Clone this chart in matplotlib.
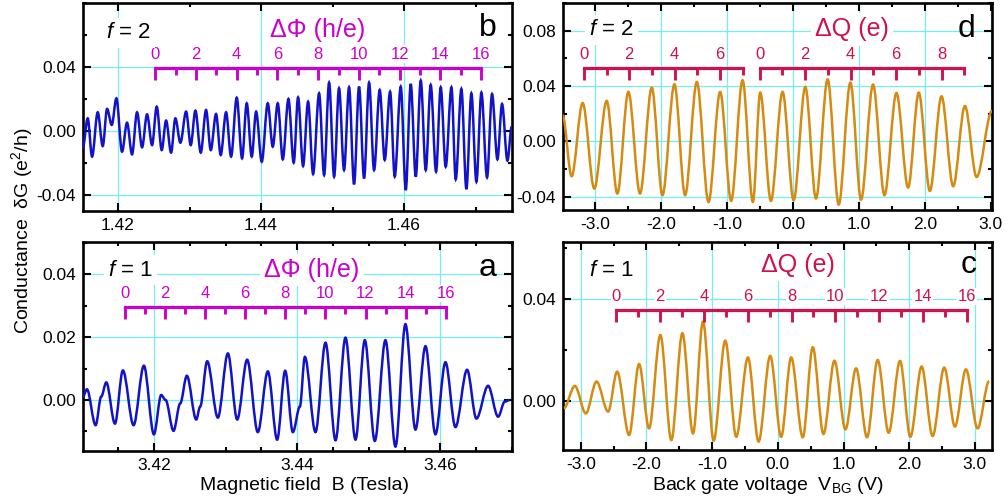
import numpy as np
import matplotlib
matplotlib.use('Agg')
import matplotlib.pyplot as plt
from matplotlib.path import Path
from matplotlib.patches import PathPatch
from matplotlib.ticker import MultipleLocator, FormatStrFormatter

plt.rcParams['font.family'] = ['Liberation Sans', 'DejaVu Sans']
plt.rcParams['mathtext.fontset'] = 'custom'
plt.rcParams['mathtext.rm'] = 'Liberation Sans'
plt.rcParams['mathtext.it'] = 'Liberation Sans:italic'
plt.rcParams['axes.unicode_minus'] = False

# extrema (field in Tesla / gate in V, dG in e^2/h)
# panel b: f = 2 vs magnetic field
field_b = [1.41506, 1.41576, 1.41637, 1.41716, 1.41786, 1.41847, 1.41912, 1.41977, 1.42056, 1.42126,
           1.42196, 1.42266, 1.42336, 1.42406, 1.42476, 1.42541, 1.42611, 1.42672, 1.42742, 1.42802,
           1.42872, 1.42952, 1.43017, 1.43082, 1.43157, 1.43231, 1.43297, 1.43371, 1.43436, 1.43511,
           1.43581, 1.43660, 1.43735, 1.43800, 1.43870, 1.43931, 1.44010, 1.44094, 1.44164, 1.44234,
           1.44304, 1.44383, 1.44457, 1.44518, 1.44588, 1.44658, 1.44728, 1.44812, 1.44882, 1.44952,
           1.45022, 1.45091, 1.45161, 1.45231, 1.45301, 1.45371, 1.45441, 1.45511, 1.45581, 1.45660,
           1.45730, 1.45805, 1.45870, 1.45954, 1.46024, 1.46094, 1.46164, 1.46234, 1.46304, 1.46373,
           1.46448, 1.46513, 1.46583, 1.46663, 1.46723, 1.46802, 1.46872, 1.46942, 1.47012, 1.47082,
           1.47161, 1.47231, 1.47306, 1.47371, 1.47446, 1.47506]
dG_b = [-0.0108, 0.0079, -0.0160, 0.0117, -0.0094, 0.0138, 0.0038, 0.0204, -0.0129, 0.0052,
        -0.0146, 0.0117, -0.0102, 0.0104, -0.0088, 0.0152, -0.0119, 0.0065, -0.0135, 0.0079,
        -0.0073, 0.0121, -0.0088, 0.0127, -0.0135, 0.0131, -0.0119, 0.0106, -0.0150, 0.0117,
        -0.0160, 0.0208, -0.0171, 0.0173, -0.0160, 0.0121, -0.0192, 0.0173, -0.0098, 0.0173,
        -0.0177, 0.0200, -0.0198, 0.0210, -0.0219, 0.0183, -0.0269, 0.0235, -0.0275, 0.0302,
        -0.0285, 0.0267, -0.0244, 0.0273, -0.0333, 0.0277, -0.0296, 0.0302, -0.0244, 0.0256,
        -0.0181, 0.0246, -0.0285, 0.0277, -0.0369, 0.0294, -0.0285, 0.0315, -0.0244, 0.0288,
        -0.0254, 0.0273, -0.0223, 0.0273, -0.0302, 0.0263, -0.0363, 0.0235, -0.0317, 0.0240,
        -0.0290, 0.0231, -0.0177, 0.0169, -0.0185, 0.0027]

# panel a: f = 1 vs magnetic field
field_a = [3.41009, 3.41065, 3.41186, 3.41265, 3.41335, 3.41456, 3.41567, 3.41716, 3.41860, 3.42000,
           3.42102, 3.42163, 3.42274, 3.42367, 3.42460, 3.42591, 3.42646, 3.42744, 3.42893, 3.43033,
           3.43163, 3.43302, 3.43451, 3.43591, 3.43721, 3.43833, 3.43940, 3.44038, 3.44108, 3.44256,
           3.44396, 3.44536, 3.44675, 3.44815, 3.44945, 3.45084, 3.45233, 3.45373, 3.45512, 3.45652,
           3.45792, 3.45931, 3.46071, 3.46210, 3.46373, 3.46503, 3.46666, 3.46806, 3.46899, 3.46968]
dG_a = [0.0011, 0.0034, -0.0080, 0.0011, 0.0056, -0.0075, 0.0094, -0.0080, 0.0109, -0.0109,
        0.0016, 0.0000, -0.0098, -0.0011, 0.0077, -0.0062, -0.0021, 0.0123, -0.0056, 0.0148,
        -0.0062, 0.0128, -0.0102, 0.0091, -0.0126, 0.0093, -0.0102, -0.0021, 0.0137, -0.0102,
        0.0182, -0.0128, 0.0198, -0.0126, 0.0190, -0.0130, 0.0190, -0.0148, 0.0241, -0.0094,
        0.0171, -0.0109, 0.0120, -0.0086, 0.0096, -0.0059, 0.0045, -0.0053, -0.0005, 0.0000]

# panel d: f = 2 vs back gate
gate_d = [-3.496, -3.359, -3.192, -3.015, -2.827, -2.665, -2.498, -2.321, -2.143, -1.981,
          -1.799, -1.637, -1.459, -1.282, -1.105, -0.938, -0.765, -0.608, -0.497, -0.335,
          -0.158, 0.010, 0.187, 0.349, 0.526, 0.694, 0.871, 1.033, 1.215, 1.388,
          1.570, 1.747, 1.909, 2.077, 2.254, 2.431, 2.609, 2.786, 3.020]
dG_d = [0.0188, -0.0253, 0.0277, -0.0342, 0.0292, -0.0378, 0.0357, -0.0378, 0.0388, -0.0390,
        0.0412, -0.0390, 0.0429, -0.0439, 0.0357, -0.0431, 0.0441, -0.0439, 0.0352, -0.0431,
        0.0357, -0.0427, 0.0393, -0.0414, 0.0448, -0.0458, 0.0424, -0.0422, 0.0410, -0.0390,
        0.0349, -0.0335, 0.0352, -0.0359, 0.0325, -0.0325, 0.0255, -0.0258, 0.0220]

# panel c: f = 1 vs back gate
gate_c = [-3.257, -3.090, -2.922, -2.760, -2.583, -2.446, -2.264, -2.112, -1.960, -1.788,
          -1.621, -1.453, -1.291, -1.139, -0.977, -0.800, -0.633, -0.455, -0.293, -0.116,
          0.051, 0.203, 0.380, 0.532, 0.694, 0.862, 1.029, 1.191, 1.358, 1.520,
          1.687, 1.860, 2.017, 2.189, 2.356, 2.533, 2.696, 2.863, 3.040, 3.217]
dG_c = [-0.0030, 0.0058, -0.0050, 0.0075, -0.0043, 0.0114, -0.0135, 0.0144, -0.0109, 0.0258,
        -0.0155, 0.0265, -0.0129, 0.0311, -0.0157, 0.0236, -0.0142, 0.0170, -0.0161, 0.0176,
        -0.0142, 0.0170, -0.0144, 0.0210, -0.0131, 0.0157, -0.0113, 0.0127, -0.0144, 0.0160,
        -0.0126, 0.0156, -0.0142, 0.0134, -0.0139, 0.0130, -0.0102, 0.0123, -0.0109, 0.0077]

# period scales drawn on top of the traces
flux_counts = list(range(17))
flux_labels = [0, 2, 4, 6, 8, 10, 12, 14, 16]
flux_origin_b, flux_step_b, flux_level_b = 1.4252, 0.002849, 0.0396
flux_origin_a, flux_step_a, flux_level_a = 3.41595, 0.0028, 0.0296

charge_counts_c = list(range(17))
charge_labels_c = [0, 2, 4, 6, 8, 10, 12, 14, 16]
charge_origin_c, charge_step_c, charge_level_c = -2.456, 0.3331, 0.0357

charge_counts_d1 = list(range(8))
charge_labels_d1 = [0, 2, 4, 6]
charge_origin_d1, charge_step_d1 = -3.172, 0.3439
charge_counts_d2 = list(range(10))
charge_labels_d2 = [0, 2, 4, 6, 8]
charge_origin_d2, charge_step_d2 = -0.507, 0.3455
charge_level_d = 0.0528

blue = '#1212C8'
orange = '#D58A12'
magenta = '#CC00CC'
crimson = '#D0124C'
grid_cyan = '#74EEEE'

W, H = 1008, 503
fig = plt.figure(figsize=(W / 100, H / 100), dpi=100)


def make_axes(left, top, right, bottom, xlim, ylim, xticks, yticks, xminor, yminor, xfmt):
    ax = fig.add_axes([left / W, 1 - bottom / H, (right - left) / W, (bottom - top) / H])
    ax.set_xlim(*xlim)
    ax.set_ylim(*ylim)
    ax.set_xticks(xticks)
    ax.set_yticks(yticks)
    ax.xaxis.set_minor_locator(MultipleLocator(xminor))
    ax.yaxis.set_minor_locator(MultipleLocator(yminor))
    ax.xaxis.set_major_formatter(FormatStrFormatter(xfmt))
    ax.yaxis.set_major_formatter(FormatStrFormatter('%.2f'))
    ax.tick_params(which='both', direction='in', top=True, right=True, width=1.5, labelsize=12.5)
    ax.tick_params(which='major', length=5.5, pad=5)
    ax.tick_params(which='minor', length=3)
    for sp in ax.spines.values():
        sp.set_linewidth(1.9)
    ax.grid(True, which='major', color=grid_cyan, lw=0.9)
    ax.set_axisbelow(True)
    return ax


def smooth_trace(ax, xs, ys, color, k=0.34):
    verts = [(xs[0], ys[0])]
    codes = [Path.MOVETO]
    for i in range(1, len(xs)):
        dx = xs[i] - xs[i - 1]
        verts += [(xs[i - 1] + k * dx, ys[i - 1]), (xs[i] - k * dx, ys[i]), (xs[i], ys[i])]
        codes += [Path.CURVE4] * 3
    patch = PathPatch(Path(verts, codes), facecolor='none', edgecolor=color, lw=1.8, zorder=3)
    ax.add_patch(patch)


def draw_bracket(ax, origin, step, counts, labeled, level, color):
    ymin, ymax = ax.get_ylim()
    per_px = (ymax - ymin) / ax.bbox.height
    xs = [origin + step * c for c in counts]
    ax.plot([xs[0], xs[-1]], [level, level], color=color, lw=2.3, solid_capstyle='projecting', zorder=4)
    for c, x in zip(counts, xs):
        length = 12 if c % 2 == 0 else 7
        ax.plot([x, x], [level, level - length * per_px], color=color, lw=2.1, solid_capstyle='butt', zorder=4)
        if c in labeled:
            ax.text(x, level + 6 * per_px, str(c), ha='center', va='bottom', color=color, fontsize=12,
                    zorder=4, bbox=dict(facecolor='white', edgecolor='none', pad=1.0))


def panel_text(ax, fval, title, title_pos, title_color, letter, fpos, letter_pos):
    box = dict(facecolor='white', edgecolor='none', pad=3)
    ax.text(*fpos, r'$\it{f}$ = %d' % fval, transform=ax.transAxes, ha='center', va='center',
            fontsize=16, zorder=4, bbox=box)
    ax.text(*title_pos, title, transform=ax.transAxes, ha='center', va='center', fontsize=18,
            color=title_color, zorder=4, bbox=box)
    ax.text(*letter_pos, letter, transform=ax.transAxes, ha='center', va='center', fontsize=23,
            zorder=4)


# b (top left)
ax_b = make_axes(83, 3, 512, 211, (1.4151, 1.4751), (-0.05, 0.08), [1.42, 1.44, 1.46],
                 [-0.04, 0.0, 0.04], 0.01, 0.02, '%.2f')
smooth_trace(ax_b, field_b, dG_b, blue)
draw_bracket(ax_b, flux_origin_b, flux_step_b, flux_counts, flux_labels, flux_level_b, magenta)
panel_text(ax_b, 2, 'ΔΦ (h/e)', (0.548, 0.872), magenta, 'b', (0.105, 0.856), (0.944, 0.88))

# a (bottom left)
ax_a = make_axes(83, 242, 512, 451, (3.4101, 3.47), (-0.0162, 0.0502), [3.42, 3.44, 3.46],
                 [0.0, 0.02, 0.04], 0.005, 0.01, '%.2f')
smooth_trace(ax_a, field_a, dG_a, blue)
draw_bracket(ax_a, flux_origin_a, flux_step_a, flux_counts, flux_labels, flux_level_a, magenta)
panel_text(ax_a, 1, 'ΔΦ (h/e)', (0.533, 0.866), magenta, 'a', (0.11, 0.866), (0.944, 0.876))

# d (top right)
ax_d = make_axes(563, 3, 992, 210, (-3.49, 3.02), (-0.0497, 0.1), [-3, -2, -1, 0, 1, 2, 3],
                 [-0.04, 0.0, 0.04, 0.08], 0.5, 0.02, '%.1f')
smooth_trace(ax_d, gate_d, dG_d, orange)
draw_bracket(ax_d, charge_origin_d1, charge_step_d1, charge_counts_d1, charge_labels_d1, charge_level_d, crimson)
draw_bracket(ax_d, charge_origin_d2, charge_step_d2, charge_counts_d2, charge_labels_d2, charge_level_d, crimson)
panel_text(ax_d, 2, 'ΔQ (e)', (0.673, 0.873), crimson, 'd', (0.113, 0.87), (0.941, 0.873))

# c (bottom right)
ax_c = make_axes(563, 242, 992, 450, (-3.27, 3.26), (-0.0194, 0.0624), [-3, -2, -1, 0, 1, 2, 3],
                 [0.0, 0.04], 0.5, 0.02, '%.1f')
smooth_trace(ax_c, gate_c, dG_c, orange)
draw_bracket(ax_c, charge_origin_c, charge_step_c, charge_counts_c, charge_labels_c, charge_level_c, crimson)
panel_text(ax_c, 1, 'ΔQ (e)', (0.548, 0.889), crimson, 'c', (0.113, 0.865), (0.945, 0.889))

fig.text(22 / W, 1 - 231 / H, 'Conductance  δG (e$^2$/h)', rotation=90, ha='center', va='center', fontsize=14)
fig.text(304 / W, 1 - 485 / H, 'Magnetic field  B (Tesla)', ha='center', va='center', fontsize=14)
fig.text(768 / W, 1 - 486 / H, r'Back gate voltage  V$_{\mathrm{BG}}$ (V)', ha='center', va='center', fontsize=14)

fig.savefig('out.png', dpi=100)
